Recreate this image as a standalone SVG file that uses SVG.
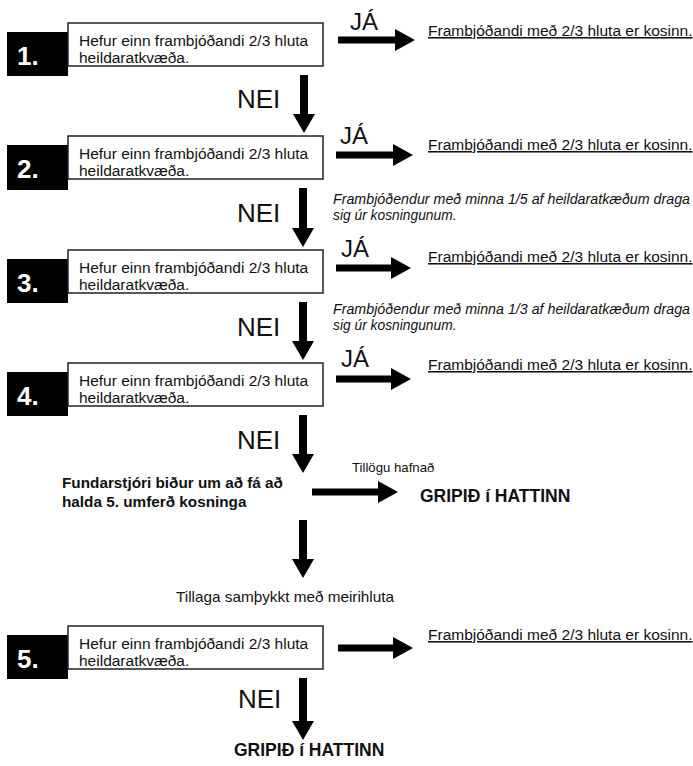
<svg xmlns="http://www.w3.org/2000/svg" width="693" height="766" viewBox="0 0 693 766">
<style>
text{font-family:"Liberation Sans",Arial,sans-serif;fill:#111}
.box{fill:#fff;stroke:#222;stroke-width:1.5}
.num{fill:#000}
.numt{fill:#fff;font-weight:bold;font-size:26px}
.bt{font-size:15.5px}
.ja{font-size:24px}
.nei{font-size:26px}
.res{font-size:15.5px;text-decoration:underline}
.it{font-size:13.8px;font-style:italic}
.bold{font-weight:bold}
.arr{fill:#000}
</style>
<rect width="693" height="766" fill="#fff"/>

<g id="step1">
<rect class="num" x="7" y="32" width="61" height="44"/>
<text class="numt" x="17" y="65">1.</text>
<rect class="box" x="68" y="23" width="255" height="43"/>
<text class="bt" x="79" y="46">Hefur einn frambjóðandi 2/3 hluta</text>
<text class="bt" x="79" y="63">heildaratkvæða.</text>
</g>
<g id="result1"><text class="res" x="428" y="36">Frambjóðandi með 2/3 hluta er kosinn.</text></g>

<g id="step2">
<rect class="num" x="7" y="145" width="61" height="45"/>
<text class="numt" x="17" y="178">2.</text>
<rect class="box" x="68" y="136" width="255" height="43"/>
<text class="bt" x="79" y="159">Hefur einn frambjóðandi 2/3 hluta</text>
<text class="bt" x="79" y="176">heildaratkvæða.</text>
</g>
<g id="result2"><text class="res" x="428" y="150">Frambjóðandi með 2/3 hluta er kosinn.</text></g>
<g id="note2">
<text class="it" x="333" y="204" textLength="357" lengthAdjust="spacingAndGlyphs">Frambjóðendur með minna 1/5 af heildaratkæðum draga</text>
<text class="it" x="333" y="220">sig úr kosningunum.</text>
</g>

<g id="step3">
<rect class="num" x="7" y="259" width="61" height="44"/>
<text class="numt" x="17" y="292">3.</text>
<rect class="box" x="68" y="250" width="255" height="43"/>
<text class="bt" x="79" y="273">Hefur einn frambjóðandi 2/3 hluta</text>
<text class="bt" x="79" y="290">heildaratkvæða.</text>
</g>
<g id="result3"><text class="res" x="428" y="262">Frambjóðandi með 2/3 hluta er kosinn.</text></g>
<g id="note3">
<text class="it" x="333" y="314" textLength="357" lengthAdjust="spacingAndGlyphs">Frambjóðendur með minna 1/3 af heildaratkæðum draga</text>
<text class="it" x="333" y="330">sig úr kosningunum.</text>
</g>

<g id="step4">
<rect class="num" x="7" y="372" width="61" height="44"/>
<text class="numt" x="17" y="405">4.</text>
<rect class="box" x="68" y="363" width="255" height="43"/>
<text class="bt" x="79" y="386">Hefur einn frambjóðandi 2/3 hluta</text>
<text class="bt" x="79" y="403">heildaratkvæða.</text>
</g>
<g id="result4"><text class="res" x="428" y="370">Frambjóðandi með 2/3 hluta er kosinn.</text></g>

<g id="fundarstjori">
<text class="bold" x="62" y="488" font-size="15.3">Fundarstjóri biður um að fá að</text>
<text class="bold" x="62" y="507" font-size="15.3">halda 5. umferð kosninga</text>
</g>
<g id="gripid1"><text class="bold" x="420" y="502" font-size="17.5">GRIPIÐ í HATTINN</text></g>

<g id="step5">
<rect class="num" x="7" y="635" width="61" height="44"/>
<text class="numt" x="17" y="668">5.</text>
<rect class="box" x="68" y="626" width="255" height="43"/>
<text class="bt" x="79" y="649">Hefur einn frambjóðandi 2/3 hluta</text>
<text class="bt" x="79" y="666">heildaratkvæða.</text>
</g>
<g id="result5"><text class="res" x="428" y="640">Frambjóðandi með 2/3 hluta er kosinn.</text></g>
<g id="gripid2"><text class="bold" x="234" y="756" font-size="17.5">GRIPIÐ í HATTINN</text></g>

<g id="connectors">
<path class="arr" d="M300,75H308V114H315L304,133L293,114H300Z"/>
<path class="arr" d="M299,188H307V228H314L303,247L292,228H299Z"/>
<path class="arr" d="M299,302H307V341H314L303,360L292,341H299Z"/>
<path class="arr" d="M299,415H307V454H314L303,473L292,454H299Z"/>
<path class="arr" d="M299,520H307V559H314L303,578L292,559H299Z"/>
<path class="arr" d="M299,678H307V721H314L303,740L292,721H299Z"/>
<path class="arr" d="M338,36.5H395V29L415,40L395,51V43.5H338Z"/>
<path class="arr" d="M336,151.5H393V144L413,155L393,166V158.5H336Z"/>
<path class="arr" d="M336,264.5H391V257L411,268L391,279V271.5H336Z"/>
<path class="arr" d="M336,375.5H391V368L411,379L391,390V382.5H336Z"/>
<path class="arr" d="M312,488.5H378V481L398,492L378,503V495.5H312Z"/>
<path class="arr" d="M338,644.5H393V637L413,648L393,659V651.5H338Z"/>
<text class="ja" x="350" y="30">JÁ</text>
<text class="ja" x="340" y="144">JÁ</text>
<text class="ja" x="341" y="257">JÁ</text>
<text class="ja" x="341" y="367">JÁ</text>
<text class="nei" x="237" y="108">NEI</text>
<text class="nei" x="237" y="222">NEI</text>
<text class="nei" x="237" y="336">NEI</text>
<text class="nei" x="237" y="449">NEI</text>
<text class="nei" x="238" y="708">NEI</text>
<text x="352" y="472" font-size="13.2">Tillögu hafnað</text>
<text x="176" y="602" font-size="14.5" textLength="218" lengthAdjust="spacingAndGlyphs">Tillaga samþykkt með meirihluta</text>
</g>
</svg>
